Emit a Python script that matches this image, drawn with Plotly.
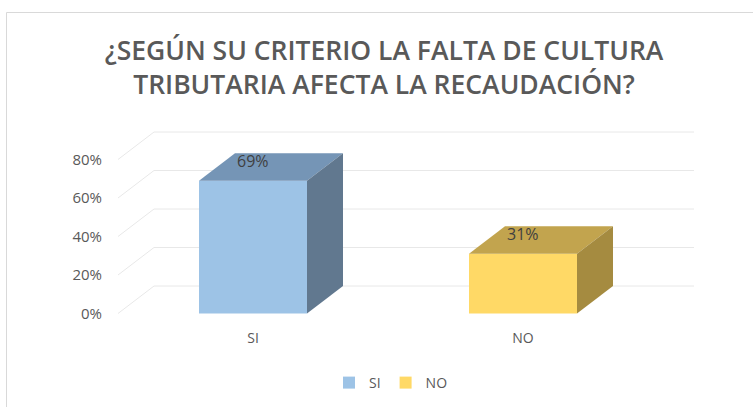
import plotly.graph_objects as go

# ---- data ----
categories = ["SI", "NO"]
values = [69, 31]
value_labels = ["69%", "31%"]
tick_values = [0, 20, 40, 60, 80]
tick_labels = ["0%", "20%", "40%", "60%", "80%"]
title_text = "¿SEGÚN SU CRITERIO LA FALTA DE CULTURA<br>TRIBUTARIA AFECTA LA RECAUDACIÓN?"

# ---- styles ----
front_colors = ["#9DC3E6", "#FFD966"]
top_colors = ["#7595B6", "#C2A44E"]
side_colors = ["#61788F", "#A58B40"]
grid_color = "#E8E8E8"
text_color = "#595959"
FONT = "Open Sans"

W, H = 753, 407
PLOT_L, PLOT_R, PLOT_T, PLOT_B = 118, 700, 120, 328
PX_PER_UNIT_Y = 1.925
ZERO_PX = 313.5
PX_PER_CAT = 270
CAT0_PX = 253
DEPTH_PX_X, DEPTH_PX_Y = 36, 27.5

x_range = [(PLOT_L - CAT0_PX) / PX_PER_CAT, (PLOT_R - CAT0_PX) / PX_PER_CAT]
y_range = [-(PLOT_B - ZERO_PX) / PX_PER_UNIT_Y, (ZERO_PX - PLOT_T) / PX_PER_UNIT_Y]
DX = DEPTH_PX_X / PX_PER_CAT
DY = DEPTH_PX_Y / PX_PER_UNIT_Y
BAR_W = 0.4
FLOOR_L, FLOOR_R = -0.5, 1.5

fig = go.Figure()

shapes = []
# 3D gridlines (front-left diagonal + back wall line)
for t in tick_values:
    path = (f"M {FLOOR_L},{t} L {FLOOR_L + DX},{t + DY} L {FLOOR_R + DX},{t + DY}")
    shapes.append(dict(type="path", path=path, xref="x", yref="y", layer="below",
                       line=dict(color=grid_color, width=1)))

# chart border (pixel -> paper)
def px_to_paper_x(px):
    return (px - PLOT_L) / (PLOT_R - PLOT_L)

def px_to_paper_y(py):
    return (PLOT_B - py) / (PLOT_B - PLOT_T)

shapes.append(dict(type="rect", xref="paper", yref="paper",
                   x0=px_to_paper_x(6.5), x1=px_to_paper_x(780),
                   y0=px_to_paper_y(12.5), y1=px_to_paper_y(430),
                   line=dict(color="#D9D9D9", width=1), layer="below"))

for i, (cat, v) in enumerate(zip(categories, values)):
    fig.add_trace(go.Bar(x=[i], y=[v], width=BAR_W, name=cat,
                         marker=dict(color=front_colors[i], line=dict(width=0)),
                         hoverinfo="skip"))
for i, (cat, v) in enumerate(zip(categories, values)):
    xl, xr = i - BAR_W / 2, i + BAR_W / 2
    # top face
    fig.add_trace(go.Scatter(
        x=[xl, xl + DX, xr + DX, xr, xl], y=[v, v + DY, v + DY, v, v],
        fill="toself", fillcolor=top_colors[i], mode="lines",
        line=dict(width=0, color=top_colors[i]), showlegend=False, hoverinfo="skip"))
    # side face
    fig.add_trace(go.Scatter(
        x=[xr, xr + DX, xr + DX, xr, xr], y=[0, DY, v + DY, v, 0],
        fill="toself", fillcolor=side_colors[i], mode="lines",
        line=dict(width=0, color=side_colors[i]), showlegend=False, hoverinfo="skip"))

annotations = []
for i, (v, lab) in enumerate(zip(values, value_labels)):
    annotations.append(dict(x=i, y=v + DY * 0.72, text=lab, showarrow=False,
                            xref="x", yref="y",
                            font=dict(family=FONT, size=16, color="#404040")))

fig.update_layout(
    width=W, height=H,
    margin=dict(l=PLOT_L, r=W - PLOT_R, t=PLOT_T, b=H - PLOT_B, autoexpand=False),
    paper_bgcolor="white", plot_bgcolor="rgba(0,0,0,0)",
    barmode="overlay",
    title=dict(text=title_text, x=384 / W, xanchor="center", xref="container",
               y=1 - 60 / H, yanchor="top", yref="container",
               font=dict(family=FONT, size=26.5, color=text_color, weight=600)),
    xaxis=dict(range=x_range, tickvals=list(range(len(categories))), ticktext=categories,
               showgrid=False, zeroline=False, showline=False, ticks="",
               tickfont=dict(family=FONT, size=14, color=text_color), fixedrange=True),
    yaxis=dict(range=y_range, tickvals=tick_values, ticktext=tick_labels,
               showgrid=False, zeroline=False, showline=False, ticks="",
               ticklabelstandoff=15,
               tickfont=dict(family=FONT, size=15, color=text_color), fixedrange=True),
    legend=dict(orientation="h", xref="container", yref="container",
                x=391 / W, xanchor="center", y=1 - 383 / H, yanchor="middle",
                font=dict(family=FONT, size=14, color=text_color),
                tracegroupgap=0),
    shapes=shapes, annotations=annotations,
    showlegend=True,
)

fig.write_html("out.html", config={"displayModeBar": False},
               post_script="document.body.style.margin='0';")
